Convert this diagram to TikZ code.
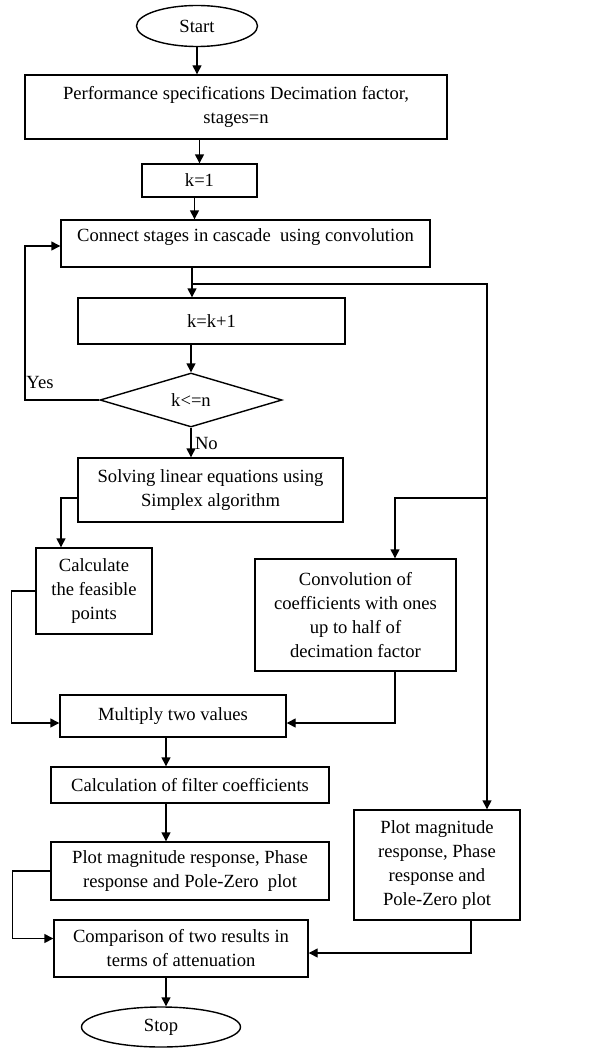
\documentclass[tikz,border=0pt]{standalone}
\usepackage{fontspec}
\setmainfont{Liberation Serif}
\usepackage{tikz}
\usetikzlibrary{shapes.geometric,arrows.meta}

\begin{document}
\begin{tikzpicture}[x=1pt,y=-1pt,line width=1.4pt,
  every node/.style={font=\fontsize{18.6pt}{24pt}\selectfont,align=center},
  box/.style={draw,rectangle,inner sep=2pt},
  term/.style={draw,ellipse,inner sep=0pt},
  decide/.style={draw,diamond,inner sep=0pt},
  arr/.style={-{Triangle[length=9pt,width=9pt]}}]
\useasboundingbox (0,0) rectangle (592,1049);
\node[term,minimum width=121pt,minimum height=41pt] (start) at (197,26) {Start};
\node[box,minimum width=422pt,minimum height=64pt] (perf) at (236,107)
      {\makebox[346pt][s]{Performance specifications Decimation factor,}\\ stages=n};
\node[box,minimum width=115pt,minimum height=33pt] (k1) at (199.5,180.5) {k=1};
\node[box,minimum width=369pt,minimum height=47pt,text depth=17pt] (conn) at (245.5,243.5)
      {Connect stages in cascade \ using convolution};
\node[box,minimum width=267pt,minimum height=46pt] (kk) at (211.5,321) {k=k+1};
\node[decide,minimum width=182pt,minimum height=54pt] (dec) at (191,400) {k<=n};
\node[box,minimum width=265pt,minimum height=64pt] (solve) at (210.5,490)
      {Solving linear equations using\\ Simplex algorithm};
\node[box,minimum width=116pt,minimum height=86pt] (calc) at (94,591)
      {Calculate\\ the feasible\\ points};
\node[box,minimum width=201pt,minimum height=112pt] (conv) at (355.5,615)
      {Convolution of\\ coefficients with ones\\ up to half of\\ decimation factor};
\node[box,minimum width=226pt,minimum height=42pt] (mult) at (173,716) {Multiply two values};
\node[box,minimum width=278pt,minimum height=36pt] (coef) at (190,785)
      {Calculation of filter coefficients};
\node[box,minimum width=278pt,minimum height=58pt] (plotl) at (190,871)
      {Plot magnitude response, Phase\\ response and Pole-Zero \ plot};
\node[box,minimum width=166pt,minimum height=110pt] (plotr) at (437,865)
      {Plot magnitude\\ response, Phase\\ response and\\ Pole-Zero plot};
\node[box,minimum width=254pt,minimum height=57pt] (comp) at (181,948.5)
      {Comparison of two results in\\ terms of attenuation};
\node[term,minimum width=159pt,minimum height=40pt] (stop) at (161,1027) {Stop};
\coordinate (split) at (192,284);
\coordinate (rail) at (487,498);
\coordinate (loop) at (25,246);

\draw[arr] (start) -- (start |- perf.north);
\draw[arr] (k1.north |- perf.south) -- (k1.north);
\draw[arr] ([xshift=-5pt]k1.south) -- ([xshift=-5pt]k1.south |- conn.north);
\draw[arr] (conn.south -| split) -- (kk.north -| split);
\draw (split) -| (rail);
\draw[arr] (rail) -| ([xshift=39.5pt]conv.north);
\draw[arr] (rail) -- (rail |- plotr.north);
\draw[arr] (kk.south -| dec) -- (dec.north);
\draw[arr] (dec.west) -| (loop) -- (loop -| conn.west);
\node (yes) at (40,382) {Yes};
\draw[arr] (dec.south) -- (dec.south |- solve.north) node[right,pos=.55] {No};
\draw[arr] ([yshift=-8pt]solve.west) -| ([xshift=-33pt]calc.north);
\draw[arr] (calc.west) -- ++(-24,0) |- ([yshift=-7pt]mult.west);
\draw[arr] ([xshift=39.5pt]conv.south) |- ([yshift=-7pt]mult.east);
\draw[arr] ([xshift=-7pt]mult.south) -- ([xshift=-7pt]mult.south |- coef.north);
\draw[arr] ([xshift=-24pt]coef.south) -- ([xshift=-24pt]coef.south |- plotl.north);
\draw[arr] (plotl.west) -- ++(-38,0) |- ([yshift=10pt]comp.west);
\draw[arr] ([xshift=34pt]plotr.south) |- ([yshift=-4.5pt]comp.east);
\draw[arr] ([xshift=-15pt]comp.south) -- ([xshift=-15pt]comp.south |- stop.north);
\end{tikzpicture}
\end{document}
